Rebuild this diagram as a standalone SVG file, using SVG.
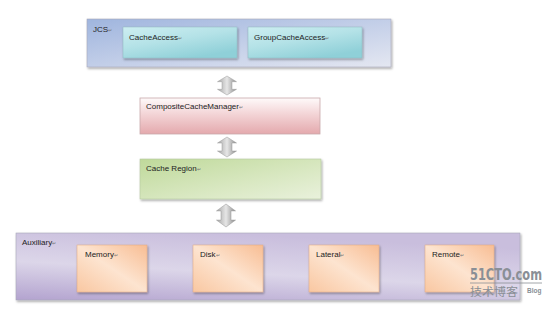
<svg xmlns="http://www.w3.org/2000/svg" width="553" height="310" viewBox="0 0 553 310">
<defs>
<linearGradient id="gJcs" x1="0" y1="0" x2="1" y2="1"><stop offset="0" stop-color="#9fb5de"/><stop offset="0.6" stop-color="#c9d3ea"/><stop offset="1" stop-color="#e4e7f1"/></linearGradient>
<linearGradient id="gTeal" x1="0" y1="0" x2="0.6" y2="1"><stop offset="0" stop-color="#cdeef1"/><stop offset="0.5" stop-color="#b4e2e7"/><stop offset="1" stop-color="#8fd0d8"/></linearGradient>
<linearGradient id="gPink" x1="0" y1="0" x2="0" y2="1"><stop offset="0" stop-color="#fefafa"/><stop offset="0.45" stop-color="#f3d4d6"/><stop offset="1" stop-color="#e4a9ad"/></linearGradient>
<linearGradient id="gGreen" x1="0" y1="0" x2="1" y2="1"><stop offset="0" stop-color="#bfd99a"/><stop offset="0.6" stop-color="#d9e8c2"/><stop offset="1" stop-color="#e9f1dc"/></linearGradient>
<linearGradient id="gPurple" x1="0" y1="1" x2="0.4" y2="0"><stop offset="0" stop-color="#b3a3cf"/><stop offset="0.5" stop-color="#dcd6e9"/><stop offset="1" stop-color="#c9bedd"/></linearGradient>
<linearGradient id="gOrange" x1="1" y1="0" x2="0" y2="1"><stop offset="0" stop-color="#f8bd93"/><stop offset="0.5" stop-color="#fde4d0"/><stop offset="1" stop-color="#f9c7a1"/></linearGradient>
<linearGradient id="gArrow" x1="0" y1="0" x2="1" y2="0"><stop offset="0" stop-color="#a6a6a6"/><stop offset="0.5" stop-color="#e6e6e6"/><stop offset="1" stop-color="#8c8c8c"/></linearGradient>
<filter id="sh" x="-10%" y="-10%" width="130%" height="140%"><feDropShadow dx="1" dy="1.5" stdDeviation="0.8" flood-color="#000" flood-opacity="0.35"/></filter>
<path id="darr" d="M0,0 L9.5,6 L5,6 L5,14 L9.5,14 L0,20 L-9.5,14 L-5,14 L-5,6 L-9.5,6 Z"/>
</defs>
<style>
text{font-family:"Liberation Sans",Arial,sans-serif;font-size:8px;fill:#222}
.m{font-size:5px;fill:#777}
.box{stroke:#a9a9b8;stroke-width:0.6}
.arr{fill:url(#gArrow);stroke:#9a9a9a;stroke-width:0.5}
.wm{fill:#8a8f96}
</style>
<rect width="553" height="310" fill="#fff"/>

<g id="jcs">
<rect x="87" y="19" width="304" height="48" fill="url(#gJcs)" class="box" filter="url(#sh)"/>
<text x="93" y="32">JCS<tspan class="m">↵</tspan></text>
</g>
<g id="cacheaccess">
<rect x="123" y="27" width="114" height="31" fill="url(#gTeal)" stroke="#8fb8c0" stroke-width="0.5" filter="url(#sh)"/>
<text x="129" y="40">CacheAccess<tspan class="m">↵</tspan></text>
</g>
<g id="groupcacheaccess">
<rect x="248" y="27" width="114" height="31" fill="url(#gTeal)" stroke="#8fb8c0" stroke-width="0.5" filter="url(#sh)"/>
<text x="254" y="40">GroupCacheAccess<tspan class="m">↵</tspan></text>
</g>

<g id="compositecachemanager">
<rect x="140" y="98" width="180" height="36" fill="url(#gPink)" stroke="#c9a9ab" stroke-width="0.8"/>
<text x="146" y="109">CompositeCacheManager<tspan class="m">↵</tspan></text>
</g>

<g id="cacheregion">
<rect x="140" y="159" width="181" height="40" fill="url(#gGreen)" stroke="#b5c8a0" stroke-width="0.6" filter="url(#sh)"/>
<text x="146" y="171">Cache Region<tspan class="m">↵</tspan></text>
</g>

<g id="auxiliary">
<rect x="16" y="233" width="504" height="67" fill="url(#gPurple)" class="box" filter="url(#sh)"/>
<text x="22" y="245">Auxiliary<tspan class="m">↵</tspan></text>
</g>
<g id="memory">
<rect x="77" y="245" width="70" height="47" fill="url(#gOrange)" stroke="#e0a880" stroke-width="0.5" filter="url(#sh)"/>
<text x="85" y="257">Memory<tspan class="m">↵</tspan></text>
</g>
<g id="disk">
<rect x="193" y="245" width="70" height="47" fill="url(#gOrange)" stroke="#e0a880" stroke-width="0.5" filter="url(#sh)"/>
<text x="200" y="257">Disk<tspan class="m">↵</tspan></text>
</g>
<g id="lateral">
<rect x="309" y="245" width="70" height="47" fill="url(#gOrange)" stroke="#e0a880" stroke-width="0.5" filter="url(#sh)"/>
<text x="316" y="257">Lateral<tspan class="m">↵</tspan></text>
</g>
<g id="remote">
<rect x="425" y="245" width="69" height="47" fill="url(#gOrange)" stroke="#e0a880" stroke-width="0.5" filter="url(#sh)"/>
<text x="432" y="257">Remote<tspan class="m">↵</tspan></text>
</g>

<g id="connectors">
<use href="#darr" class="arr" transform="translate(227,76) scale(1,0.95)"/>
<use href="#darr" class="arr" transform="translate(227,137)"/>
<use href="#darr" class="arr" transform="translate(226,204) scale(1,1.15)"/>
</g>

<g id="watermark">
<text x="470" y="280" class="wm" textLength="72" lengthAdjust="spacingAndGlyphs" style="font-family:'DejaVu Sans Condensed','DejaVu Sans',sans-serif;font-size:15px;font-weight:bold">51CTO.com</text>
<line x1="470" y1="283" x2="542" y2="283" stroke="#8a8f96" stroke-width="0.8"/>
<text x="470" y="296" class="wm" textLength="48" lengthAdjust="spacingAndGlyphs" style="font-family:'Noto Sans CJK SC',sans-serif;font-size:11px">技术博客</text>
<text x="527" y="293" class="wm" style="font-size:6.5px;font-weight:bold">Blog</text>
</g>
</svg>
